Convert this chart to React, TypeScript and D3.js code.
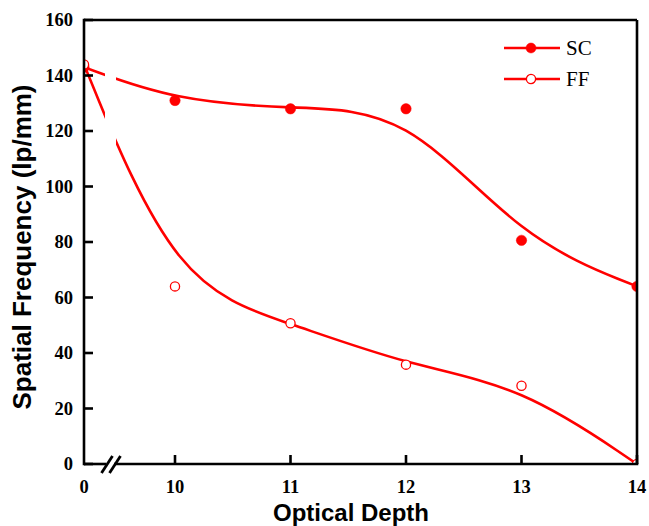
import { useRef, useEffect } from 'react'
import * as d3 from 'd3'

// values
const depths = [0, 10, 11, 12, 13, 14]
const scValues = [143, 131, 128, 128, 80.6, 64]
const ffValues = [144, 64, 50.7, 35.8, 28.2, 0]
const xTicks = [0, 10, 11, 12, 13, 14]
const yTicks = [0, 20, 40, 60, 80, 100, 120, 140, 160]
const seriesNames = ['SC', 'FF']

const RED = '#ff0000'

const App = () => {
  const ref = useRef<SVGSVGElement>(null)

  useEffect(() => {
    const svg = d3.select(ref.current)
    svg.selectAll('*').remove()

    const width = 649
    const height = 526
    const left = 84
    const right = 637
    const top = 20
    const bottom = 464

    svg.attr('width', width).attr('height', height)

    // broken axis: 0 sits just left of the break, 10..14 are evenly spaced
    const x = d3.scaleLinear().domain([0, 10, 14]).range([left, 175, right])
    const y = d3.scaleLinear().domain([0, 160]).range([bottom, top])

    svg.append('defs').append('clipPath').attr('id', 'plot-clip')
      .append('rect')
      .attr('x', left).attr('y', top)
      .attr('width', right - left).attr('height', bottom - top)

    const plot = svg.append('g').attr('clip-path', 'url(#plot-clip)')

    const line = d3.line<number>()
      .x((d, i) => x(depths[i]))
      .y((d) => y(d))
      .curve(d3.curveBasis)

    const series = [scValues, ffValues]
    series.forEach((vals) => {
      plot.append('path')
        .attr('d', line(vals))
        .attr('fill', 'none')
        .attr('stroke', RED)
        .attr('stroke-width', 2.6)
    })

    // white band where the axis is broken
    plot.append('rect')
      .attr('x', 105).attr('y', top)
      .attr('width', 11).attr('height', bottom - top)
      .attr('fill', 'white')

    series.forEach((vals, s) => {
      plot.selectAll(`circle.s${s}`)
        .data(vals)
        .enter()
        .append('circle')
        .attr('class', `s${s}`)
        .attr('cx', (d, i) => x(depths[i]))
        .attr('cy', (d) => y(d))
        .attr('r', s === 0 ? 5.2 : 4.6)
        .attr('fill', s === 0 ? RED : 'white')
        .attr('stroke', RED)
        .attr('stroke-width', s === 0 ? 0.5 : 1.3)
    })

    const axisColor = '#000'
    const sw = 2.6

    // frame
    svg.append('line')
      .attr('x1', left).attr('x2', right).attr('y1', top).attr('y2', top)
      .attr('stroke', axisColor).attr('stroke-width', sw)
    svg.append('line')
      .attr('x1', right).attr('x2', right).attr('y1', top).attr('y2', bottom)
      .attr('stroke', axisColor).attr('stroke-width', sw)
    svg.append('line')
      .attr('x1', left).attr('x2', left).attr('y1', top - 1.3).attr('y2', bottom + 1.3)
      .attr('stroke', axisColor).attr('stroke-width', sw)
    // bottom axis with a gap between the break slashes
    svg.append('line')
      .attr('x1', left).attr('x2', 106).attr('y1', bottom).attr('y2', bottom)
      .attr('stroke', axisColor).attr('stroke-width', sw)
    svg.append('line')
      .attr('x1', 114).attr('x2', right + 1.3).attr('y1', bottom).attr('y2', bottom)
      .attr('stroke', axisColor).attr('stroke-width', sw)
    ;[107, 115].forEach((cx) => {
      svg.append('line')
        .attr('x1', cx - 5.5).attr('y1', bottom + 9)
        .attr('x2', cx + 5.5).attr('y2', bottom - 8)
        .attr('stroke', axisColor).attr('stroke-width', 2.8)
    })

    // ticks (inward)
    svg.selectAll('line.yt')
      .data(yTicks)
      .enter()
      .append('line')
      .attr('class', 'yt')
      .attr('x1', left).attr('x2', left + 9)
      .attr('y1', (d) => y(d)).attr('y2', (d) => y(d))
      .attr('stroke', axisColor).attr('stroke-width', sw)

    svg.selectAll('line.xt')
      .data(xTicks.filter((d) => d !== 0))
      .enter()
      .append('line')
      .attr('class', 'xt')
      .attr('x1', (d) => x(d)).attr('x2', (d) => x(d))
      .attr('y1', bottom).attr('y2', bottom - 9)
      .attr('stroke', axisColor).attr('stroke-width', sw)

    const tickFont = '"Liberation Serif", "Times New Roman", serif'

    svg.selectAll('text.yl')
      .data(yTicks)
      .enter()
      .append('text')
      .attr('class', 'yl')
      .attr('x', left - 11)
      .attr('y', (d) => y(d))
      .attr('dy', '0.35em')
      .attr('text-anchor', 'end')
      .style('font-family', tickFont)
      .style('font-weight', 'bold')
      .style('font-size', '18.5px')
      .text((d) => d)

    svg.selectAll('text.xl')
      .data(xTicks)
      .enter()
      .append('text')
      .attr('class', 'xl')
      .attr('x', (d) => x(d))
      .attr('y', bottom + 29)
      .attr('text-anchor', 'middle')
      .style('font-family', tickFont)
      .style('font-weight', 'bold')
      .style('font-size', '18.5px')
      .text((d) => d)

    const titleFont = '"Liberation Sans", Arial, sans-serif'

    svg.append('text')
      .attr('x', 351)
      .attr('y', 521)
      .attr('text-anchor', 'middle')
      .style('font-family', titleFont)
      .style('font-weight', 'bold')
      .style('font-size', '24px')
      .text('Optical Depth')

    svg.append('text')
      .attr('transform', `translate(31, 247) rotate(-90)`)
      .attr('text-anchor', 'middle')
      .style('font-family', titleFont)
      .style('font-weight', 'bold')
      .style('font-size', '26px')
      .text('Spatial Frequency (lp/mm)')

    // legend
    const legend = svg.append('g').attr('transform', 'translate(504, 48)')
    seriesNames.forEach((name, i) => {
      const g = legend.append('g').attr('transform', `translate(0, ${i * 31})`)
      g.append('line')
        .attr('x1', 0).attr('x2', 56).attr('y1', 0).attr('y2', 0)
        .attr('stroke', RED).attr('stroke-width', 2.6)
      g.append('circle')
        .attr('cx', 27).attr('cy', 0)
        .attr('r', i === 0 ? 5 : 4.6)
        .attr('fill', i === 0 ? RED : 'white')
        .attr('stroke', RED)
        .attr('stroke-width', i === 0 ? 0.5 : 1.3)
      g.append('text')
        .attr('x', 62).attr('y', 0)
        .attr('dy', '0.35em')
        .style('font-family', tickFont)
        .style('font-size', '21px')
        .text(name)
    })
  }, [])

  return (
    <svg ref={ref} style={{ position: 'absolute', left: 0, top: 0, display: 'block' }} />
  )
}

export default App
